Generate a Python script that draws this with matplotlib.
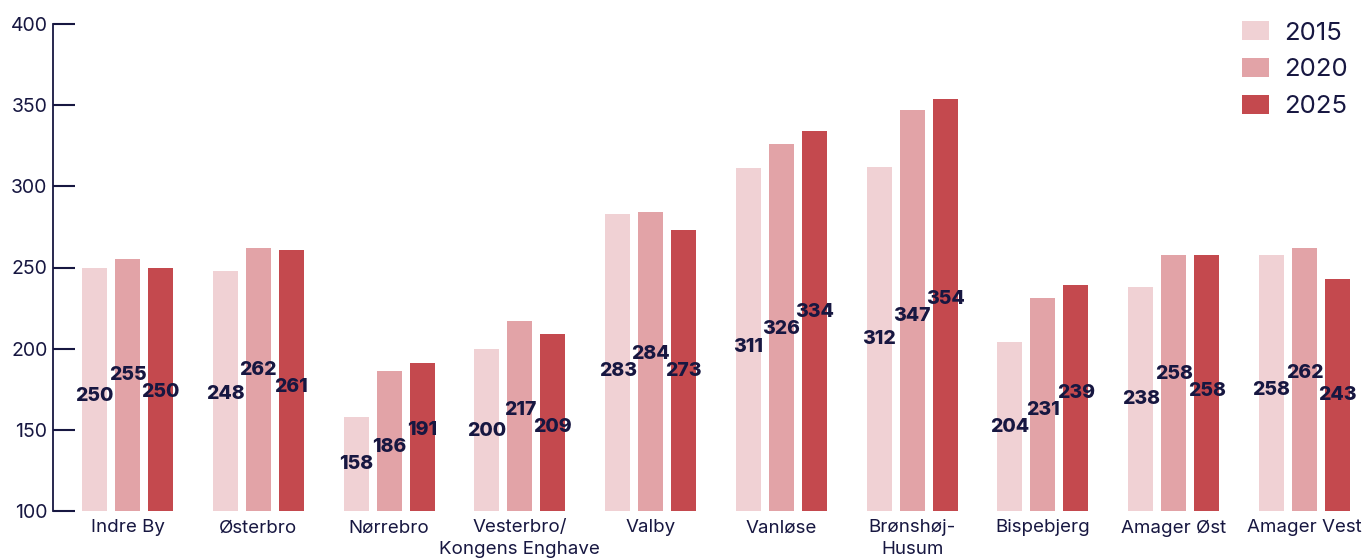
import matplotlib
matplotlib.use("Agg")
import matplotlib.pyplot as plt
import numpy as np

plt.rcParams['font.family'] = ['Inter', 'DejaVu Sans']

districts = ["Indre By", "Østerbro", "Nørrebro", "Vesterbro/\nKongens Enghave", "Valby",
             "Vanløse", "Brønshøj-\nHusum", "Bispebjerg", "Amager Øst", "Amager Vest"]
years = ["2015", "2020", "2025"]
v2015 = [250, 248, 158, 200, 283, 311, 312, 204, 238, 258]
v2020 = [255, 262, 186, 217, 284, 326, 347, 231, 258, 262]
v2025 = [250, 261, 191, 209, 273, 334, 354, 239, 258, 243]
series = [v2015, v2020, v2025]
colors = ["#f0d1d4", "#e2a3a7", "#c4494e"]
navy = "#171741"

W, H = 1367, 560
fig = plt.figure(figsize=(W / 100, H / 100), dpi=100)
ax = fig.add_axes([53 / W, 49 / H, (1362 - 53) / W, (511 - 24) / H])

base = 100
x = np.arange(len(districts))
step = 0.252
width = 0.191
for i, (vals, col, yr) in enumerate(zip(series, colors, years)):
    ax.bar(x + (i - 1) * step, np.array(vals) - base, width, bottom=base, color=col, label=yr)

ax.set_ylim(100, 400)
ax.set_xlim(-0.57, 9.44)
ax.set_yticks([100, 150, 200, 250, 300, 350, 400])
ax.set_xticks(x)
ax.set_xticklabels(districts, fontsize=13.5, color=navy, linespacing=1.35)
ax.tick_params(axis='x', length=0, pad=6)
ax.tick_params(axis='y', direction='in', length=16, width=1.5, color=navy,
               labelsize=14, labelcolor=navy, pad=4)
for s in ['top', 'right', 'bottom']:
    ax.spines[s].set_visible(False)
ax.spines['left'].set_color(navy)
ax.spines['left'].set_linewidth(1.3)

# value labels at bar midpoints, with simple overlap relaxation inside each group
minsep = 10.5  # data units
for g in range(len(districts)):
    ys = [(base + series[i][g]) / 2 for i in range(3)]
    for _ in range(50):
        for i in range(2):
            d = ys[i + 1] - ys[i]
            if abs(d) < minsep:
                sgn = 1 if d >= 0 else -1
                push = (minsep - abs(d)) / 2
                ys[i] -= sgn * push
                ys[i + 1] += sgn * push
    for i in range(3):
        ax.text(x[g] + (i - 1) * step, ys[i], str(series[i][g]), ha='center', va='center',
                fontsize=14, fontweight='heavy', color=navy)

leg = fig.legend(loc='upper right', bbox_to_anchor=(1358 / W, (H - 11) / H), frameon=False,
                 fontsize=18.5, handlelength=1.05, handleheight=0.75, handletextpad=0.6,
                 labelspacing=0.52, borderaxespad=0)
for t in leg.get_texts():
    t.set_color(navy)

fig.savefig("out.png", dpi=100)
